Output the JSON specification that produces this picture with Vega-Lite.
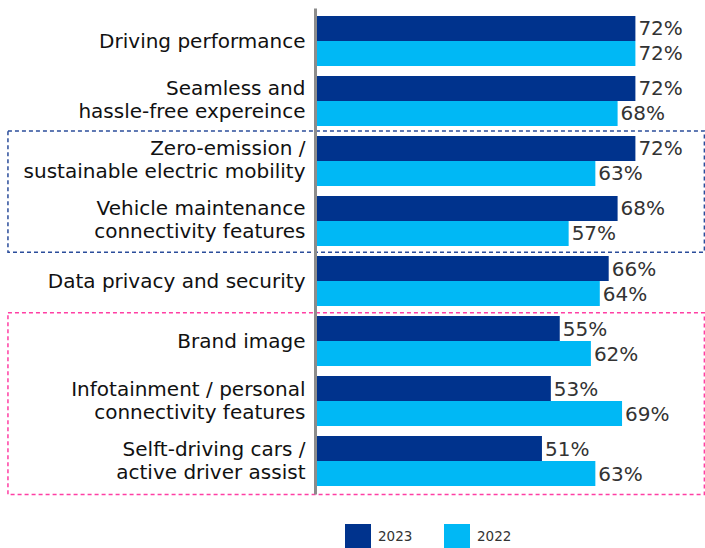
{
  "$schema": "https://vega.github.io/schema/vega-lite/v6.json",
  "width": 356,
  "height": 486,
  "autosize": {"type": "none"},
  "padding": {"left": 315, "top": 8, "right": 34, "bottom": 54},
  "config": {"view": {"stroke": null}, "font": "DejaVu Sans"},
  "datasets": {
    "bars": [
      {"cat": "Driving performance", "year": "2023", "v": 0.72},
      {"cat": "Driving performance", "year": "2022", "v": 0.72},
      {"cat": "Seamless and|hassle-free expereince", "year": "2023", "v": 0.72},
      {"cat": "Seamless and|hassle-free expereince", "year": "2022", "v": 0.68},
      {"cat": "Zero-emission /|sustainable electric mobility", "year": "2023", "v": 0.72},
      {"cat": "Zero-emission /|sustainable electric mobility", "year": "2022", "v": 0.63},
      {"cat": "Vehicle maintenance|connectivity features", "year": "2023", "v": 0.68},
      {"cat": "Vehicle maintenance|connectivity features", "year": "2022", "v": 0.57},
      {"cat": "Data privacy and security", "year": "2023", "v": 0.66},
      {"cat": "Data privacy and security", "year": "2022", "v": 0.64},
      {"cat": "Brand image", "year": "2023", "v": 0.55},
      {"cat": "Brand image", "year": "2022", "v": 0.62},
      {"cat": "Infotainment / personal|connectivity features", "year": "2023", "v": 0.53},
      {"cat": "Infotainment / personal|connectivity features", "year": "2022", "v": 0.69},
      {"cat": "Selft-driving cars /|active driver assist", "year": "2023", "v": 0.51},
      {"cat": "Selft-driving cars /|active driver assist", "year": "2022", "v": 0.63}
    ],
    "boxes": [
      {"box": "electric", "first": 2, "end": 4},
      {"box": "experience", "first": 5, "end": 8}
    ]
  },
  "layer": [
    {
      "data": {"name": "boxes"},
      "mark": {"type": "rect", "filled": false, "strokeDash": [4, 3], "strokeWidth": 1.5},
      "encoding": {
        "x": {"datum": -0.69, "type": "quantitative", "scale": {"domain": [0, 0.8]}, "axis": null},
        "x2": {"datum": 0.875},
        "y": {"field": "first", "type": "quantitative", "scale": {"domain": [-0.03, 7.99], "reverse": true}, "axis": null},
        "y2": {"field": "end"},
        "stroke": {"field": "box", "type": "nominal", "scale": {"domain": ["electric", "experience"], "range": ["#2B4D9B", "#FF3FA4"]}, "legend": null}
      }
    },
    {
      "data": {"name": "bars"},
      "encoding": {
        "y": {
          "field": "cat", "type": "nominal", "sort": null,
          "scale": {"paddingInner": 0.1667, "paddingOuter": 0.1333},
          "axis": {
            "title": null, "ticks": false, "labelPadding": 10, "labelFontSize": 20,
            "labelFont": "DejaVu Sans", "labelColor": "#111111", "labelLimit": 400,
            "labelLineHeight": 23, "labelExpr": "split(datum.label, '|')",
            "labelOffset": {"condition": {"test": "indexof(datum.value, '|') >= 0", "value": -11.5}, "value": 1},
            "domainColor": "#8C8C8C", "domainWidth": 3, "zindex": 1
          }
        },
        "yOffset": {"field": "year", "type": "nominal", "sort": ["2023", "2022"], "scale": {"paddingInner": 0, "paddingOuter": 0}},
        "x": {"field": "v", "type": "quantitative", "scale": {"domain": [0, 0.8]}, "axis": null}
      },
      "layer": [
        {
          "mark": {"type": "bar"},
          "encoding": {
            "color": {
              "field": "year", "type": "nominal",
              "scale": {"domain": ["2023", "2022"], "range": ["#00338D", "#00B8F5"]},
              "legend": {
                "title": null, "orient": "none", "legendX": 30, "legendY": 516,
                "direction": "horizontal", "symbolType": "square", "symbolSize": 676,
                "symbolStrokeWidth": 0, "symbolOpacity": 1, "labelFontSize": 13.5,
                "labelFont": "DejaVu Sans", "labelColor": "#333333", "labelOffset": 7,
                "columnPadding": 31, "padding": 0
              }
            }
          }
        },
        {
          "mark": {"type": "text", "align": "left", "baseline": "middle", "dx": 3, "dy": 1, "fontSize": 20, "color": "#333333"},
          "encoding": {
            "text": {"field": "v", "type": "quantitative", "format": ".0%"}
          }
        }
      ]
    }
  ],
  "resolve": {"scale": {"y": "independent"}}
}
